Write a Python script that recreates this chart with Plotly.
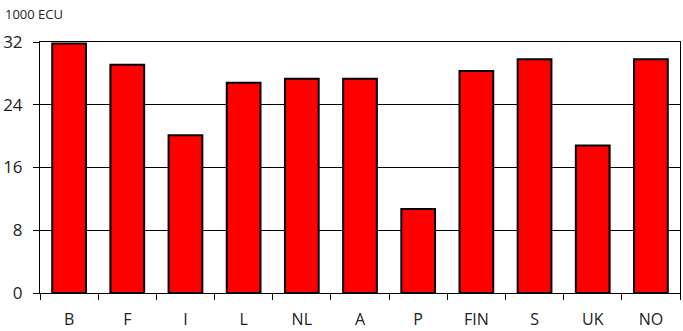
import plotly.graph_objects as go

# GDP per head, thousand ECU
countries = ["B", "F", "I", "L", "NL", "A", "P", "FIN", "S", "UK", "NO"]
values = [31.8, 29.1, 20.1, 26.8, 27.3, 27.3, 10.7, 28.3, 29.8, 18.8, 29.8]
y_ticks = [0, 8, 16, 24, 32]

fig = go.Figure(
    go.Bar(
        x=countries,
        y=values,
        marker=dict(color="#FF0000", line=dict(color="#000000", width=2)),
        hoverinfo="x+y",
    )
)

font = "Open Sans, Noto Sans, sans-serif"
text_color = "#222222"

fig.update_layout(
    width=683,
    height=331,
    margin=dict(l=40, r=3, t=42, b=38),
    paper_bgcolor="white",
    plot_bgcolor="white",
    bargap=0.42,
    showlegend=False,
    font=dict(family=font, color=text_color),
    annotations=[
        dict(
            text="1000 ECU",
            xref="paper", yref="paper",
            x=0, y=1,
            xshift=-37, yshift=39,
            xanchor="left", yanchor="top",
            showarrow=False,
            font=dict(size=13, family=font, color=text_color),
        )
    ],
)

fig.update_xaxes(
    type="category",
    tickson="boundaries",
    ticks="outside",
    ticklen=6,
    tickcolor="black",
    tickwidth=1,
    showline=True,
    linecolor="black",
    linewidth=1,
    mirror=True,
    showgrid=False,
    automargin=False,
    ticklabelstandoff=12,
    tickfont=dict(size=16, family=font, color=text_color),
)

fig.update_yaxes(
    range=[0, 32],
    tickvals=y_ticks,
    ticks="outside",
    ticklen=6,
    tickcolor="black",
    showline=True,
    linecolor="black",
    linewidth=1,
    mirror=True,
    showgrid=True,
    gridcolor="black",
    gridwidth=1,
    zeroline=False,
    automargin=False,
    ticklabelstandoff=7,
    tickfont=dict(size=17, family=font, color=text_color),
)

fig.write_html("out.html")
